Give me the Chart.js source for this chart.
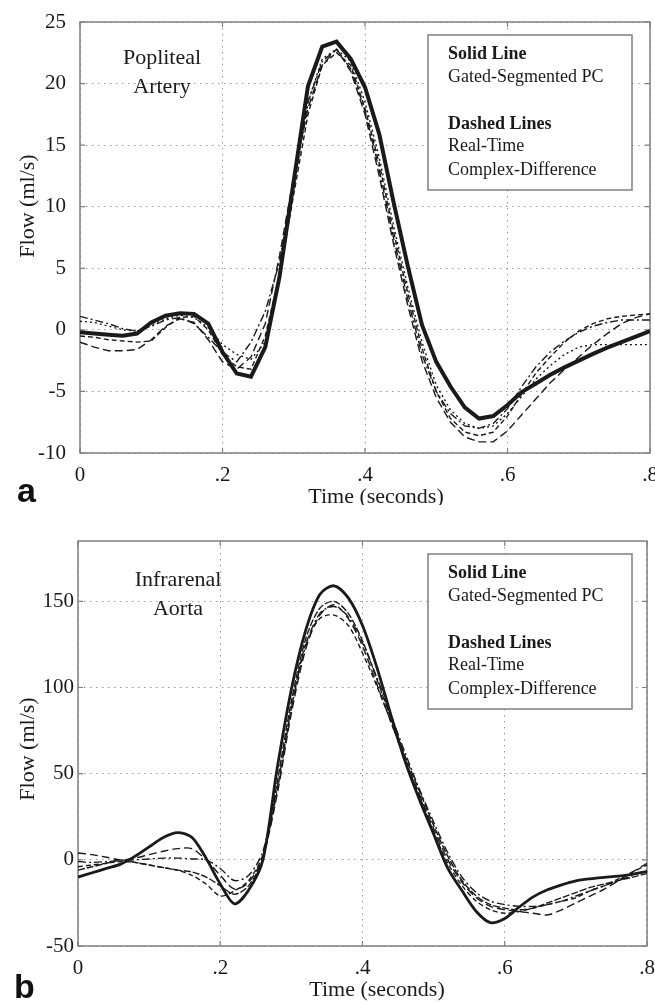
<!DOCTYPE html>
<html>
<head>
<meta charset="utf-8">
<script src="https://cdn.jsdelivr.net/npm/chart.js@4/dist/chart.umd.min.js"></script>
<style>
html,body{margin:0;padding:0;background:#fff;width:655px;height:1004px;overflow:hidden}
canvas{position:absolute;left:0}
#ca{top:0}
#cb{top:505px}
</style>
</head>
<body>
<canvas id="ca" width="655" height="505"></canvas>
<canvas id="cb" width="655" height="499"></canvas>
<script>
// ---------- data ----------
const times = [0,0.02,0.04,0.06,0.08,0.1,0.12,0.14,0.16,0.18,0.2,0.22,0.24,0.26,0.28,0.3,0.32,0.34,0.36,0.38,0.4,0.42,0.44,0.46,0.48,0.5,0.52,0.54,0.56,0.58,0.6,0.62,0.64,0.66,0.68,0.7,0.72,0.74,0.76,0.78,0.8];
const xTickValues = [0,0.2,0.4,0.6,0.8];
const xTickLabels = ['0','.2','.4','.6','.8'];

const popYTicks = [-10,-5,0,5,10,15,20,25];
const popSolid = [-0.2,-0.3,-0.4,-0.48,-0.3,0.6,1.15,1.35,1.3,0.5,-1.8,-3.55,-3.8,-1.4,4.3,12.1,19.8,23.0,23.4,22.0,19.7,15.9,10.4,5.2,0.4,-2.6,-4.6,-6.3,-7.2,-7.0,-6.1,-5.05,-4.35,-3.65,-3.05,-2.5,-1.95,-1.45,-1.0,-0.55,-0.1];
const popDash1 = [-1.0,-1.4,-1.7,-1.7,-1.6,-0.8,0.3,0.9,0.6,-0.8,-2.6,-3.2,-2.2,0.5,6.0,12.5,18.0,21.5,22.8,21.0,17.5,12.5,7.0,2.0,-2.5,-5.5,-7.5,-8.7,-9.1,-9.1,-8.2,-6.9,-5.6,-4.3,-3.2,-2.2,-1.2,-0.3,0.5,1.0,1.3];
const popDash2 = [1.1,0.8,0.5,0.1,-0.1,0.3,0.8,1.0,0.5,-0.6,-1.8,-2.6,-1.0,1.5,5.5,12.0,18.5,21.8,22.8,21.2,17.8,13.0,7.5,2.5,-2.0,-5.0,-6.8,-7.8,-8.0,-7.6,-6.4,-4.6,-3.0,-1.8,-0.9,-0.2,0.3,0.6,0.8,0.8,0.8];
const popDash3 = [-0.5,-0.6,-0.8,-0.9,-1.0,-0.9,0.2,1.0,1.1,0.0,-2.0,-3.0,-3.2,-0.5,4.5,11.0,17.5,21.5,22.5,21.5,18.0,13.5,8.0,3.0,-1.5,-5.0,-7.2,-8.3,-8.6,-8.3,-7.0,-5.2,-3.5,-2.2,-1.0,-0.1,0.5,0.9,1.1,1.2,1.3];
const popDash4 = [0.7,0.6,0.3,0.0,-0.1,0.4,0.9,1.2,1.0,0.2,-1.2,-2.0,-2.4,-1.0,4.0,11.5,18.5,22.0,22.8,21.8,18.5,14.0,8.5,3.5,-1.0,-4.5,-6.5,-7.6,-8.0,-7.8,-6.8,-5.4,-4.0,-2.9,-2.0,-1.4,-1.2,-1.2,-1.2,-1.2,-1.2];

const aortaYTicks = [-50,0,50,100,150];
const aortaSolid = [-10,-7.5,-5,-2.5,2,7.5,13,15.8,13.1,1,-14,-25.5,-17.5,0,53,99,133,154,159,152,136,112,84,57,35,15,-5,-18,-30,-36.5,-34,-27.5,-21.5,-17.4,-14.5,-12.2,-11,-10.2,-9.5,-8.3,-6.8];
const aortaDash1 = [4,3,1.5,0,1,3,5,6.5,6.5,0,-9,-17,-13,2,38,85,122,142,148,140,124,102,80,58,38,18,0,-13,-22,-27,-29,-30,-31,-32,-29,-25,-21,-17,-12,-7,-2];
const aortaDash2 = [-1,-1.5,-1,-0.5,0,0.5,1,1,0.5,0,-5,-12,-9,5,42,88,124,143,147,141,126,106,84,62,41,22,4,-10,-19,-24,-26,-27,-27,-26,-24,-21,-18,-15,-12,-9,-6];
const aortaDash3 = [-4,-3,-2,-1,-1.5,-3,-4.5,-6,-9,-14,-21,-18,-12,3,40,88,125,140,142,136,120,101,80,58,37,16,-2,-15,-24,-29,-31,-30,-28,-26,-24,-22,-18,-15,-11,-7,-3];
const aortaDash4 = [-6,-4,-2,0,-1.5,-3,-4.5,-6,-7,-10,-15,-20,-15,1,45,92,128,146,150,143,127,105,82,60,40,20,2,-12,-21,-26,-28,-29,-28,-25,-22,-19,-16,-14,-12,-10,-8];

const yTitle = 'Flow (ml/s)';
const xTitle = 'Time (seconds)';
const popLabel = ['Popliteal','Artery'];
const aortaLabel = ['Infrarenal','Aorta'];
const legendLines = [['Solid Line',true],['Gated-Segmented PC',false],['Dashed Lines',true],['Real-Time',false],['Complex-Difference',false]];

// ---------- drawing ----------
const SERIF = "'Liberation Serif','Times New Roman',serif";
const INK = '#1a1a1a';

const decor = {
  id: 'decor',
  beforeDatasetsDraw(chart, args, o) {
    const {ctx, chartArea: a, scales} = chart;
    ctx.save();
    ctx.strokeStyle = '#808080';
    ctx.lineWidth = 1.5;
    ctx.strokeRect(a.left, a.top, a.right - a.left, a.bottom - a.top);
    ctx.lineWidth = 1.2;
    ctx.beginPath();
    scales.x.ticks.forEach(t => {
      const x = scales.x.getPixelForValue(t.value);
      ctx.moveTo(x, a.bottom); ctx.lineTo(x, a.bottom - 5);
      ctx.moveTo(x, a.top); ctx.lineTo(x, a.top + 5);
    });
    scales.y.ticks.forEach(t => {
      const y = scales.y.getPixelForValue(t.value);
      ctx.moveTo(a.left, y); ctx.lineTo(a.left + 5, y);
      ctx.moveTo(a.right, y); ctx.lineTo(a.right - 5, y);
    });
    ctx.stroke();
    ctx.restore();
  },
  afterDatasetsDraw(chart, args, o) {
    const {ctx} = chart;
    ctx.save();
    const L = o.legend;
    ctx.fillStyle = '#fff';
    ctx.fillRect(L.x, L.y, L.w, L.h);
    ctx.strokeStyle = '#808080';
    ctx.lineWidth = 1.5;
    ctx.strokeRect(L.x, L.y, L.w, L.h);
    ctx.fillStyle = INK;
    ctx.textAlign = 'left';
    ctx.textBaseline = 'middle';
    const offs = [19, 42, 89, 111, 135];
    legendLines.forEach((ln, i) => {
      ctx.font = (ln[1] ? 'bold ' : '') + '18px ' + SERIF;
      ctx.fillText(ln[0], L.x + 20, L.y + offs[i]);
    });
    ctx.textAlign = 'center';
    ctx.font = '22px ' + SERIF;
    o.label.forEach((t, i) => ctx.fillText(t, o.labelX, o.labelY[i]));
    ctx.font = '22px ' + SERIF;
    ctx.fillText(xTitle, o.xTitle[0], o.xTitle[1]);
    ctx.save();
    ctx.translate(o.yTitle[0], o.yTitle[1]);
    ctx.rotate(-Math.PI / 2);
    ctx.fillText(yTitle, 0, 0);
    ctx.restore();
    ctx.textAlign = 'left';
    ctx.textBaseline = 'alphabetic';
    ctx.font = "bold 34px 'Liberation Sans',Arial,sans-serif";
    ctx.fillStyle = '#111';
    ctx.fillText(o.letter, o.letterPos[0], o.letterPos[1]);
    ctx.restore();
  }
};

function makeChart(id, cfg) {
  const styles = [
    {w: cfg.solidW, dash: []},
    {w: 1.4, dash: [8, 4]},
    {w: 1.4, dash: [8, 3, 2, 3]},
    {w: 1.4, dash: [5, 3]},
    {w: 1.4, dash: cfg.dash4}
  ];
  const datasets = cfg.series.map((vals, k) => ({
    data: times.map((t, i) => ({x: t, y: vals[i]})),
    borderColor: INK,
    borderWidth: styles[k].w,
    borderDash: styles[k].dash,
    pointRadius: 0,
    tension: cfg.tension,
    fill: false,
    order: k === 0 ? 0 : 1
  }));
  const tickFont = {family: SERIF, size: 21};
  return new Chart(document.getElementById(id), {
    type: 'line',
    data: {datasets},
    plugins: [decor],
    options: {
      responsive: false,
      animation: false,
      devicePixelRatio: 1,
      layout: {padding: {left: 0, right: cfg.padRight, top: cfg.padTop, bottom: 0}},
      plugins: {legend: {display: false}, tooltip: {enabled: false}, decor: cfg.decor},
      scales: {
        x: {
          type: 'linear', min: 0, max: 0.8,
          afterBuildTicks: s => { s.ticks = xTickValues.map(v => ({value: v})); },
          afterFit: s => { s.height = cfg.xAxisH; s.paddingLeft = 0; s.paddingRight = 0; },
          ticks: {callback: (v, i) => xTickLabels[i], font: tickFont, color: INK, padding: 10, maxRotation: 0, autoSkip: false},
          grid: {color: '#9a9a9a', lineWidth: 1, drawTicks: false},
          border: {display: false, dash: [1.5, 4.5]}
        },
        y: {
          type: 'linear', min: cfg.yMin, max: cfg.yMax,
          afterBuildTicks: s => { s.ticks = cfg.yTicks.map(v => ({value: v})); },
          afterFit: s => { s.width = cfg.yAxisW; s.paddingTop = 0; s.paddingBottom = 0; },
          ticks: {callback: v => String(v), font: tickFont, color: INK, padding: cfg.yPad, autoSkip: false},
          grid: {color: '#9a9a9a', lineWidth: 1, drawTicks: false},
          border: {display: false, dash: [1.5, 4.5]}
        }
      }
    }
  });
}

makeChart('ca', {
  series: [popSolid, popDash1, popDash2, popDash3, popDash4],
  solidW: 4, tension: 0, dash4: [2, 3],
  yMin: -10, yMax: 25, yTicks: popYTicks, yPad: 14,
  yAxisW: 80, padRight: 5, padTop: 22, xAxisH: 52,
  decor: {
    legend: {x: 428, y: 35, w: 204, h: 155},
    label: popLabel, labelX: 162, labelY: [58, 87],
    xTitle: [376, 497], yTitle: [28, 206],
    letter: 'a', letterPos: [17, 502]
  }
});

makeChart('cb', {
  series: [aortaSolid, aortaDash1, aortaDash2, aortaDash3, aortaDash4],
  solidW: 2.8, tension: 0.3, dash4: [7, 2],
  yMin: -50, yMax: 185, yTicks: aortaYTicks, yPad: 4,
  yAxisW: 78, padRight: 8, padTop: 36, xAxisH: 58,
  decor: {
    legend: {x: 428, y: 49, w: 204, h: 155},
    label: aortaLabel, labelX: 178, labelY: [75, 104],
    xTitle: [377, 485], yTitle: [28, 244],
    letter: 'b', letterPos: [14, 493]
  }
});
</script>
</body>
</html>
